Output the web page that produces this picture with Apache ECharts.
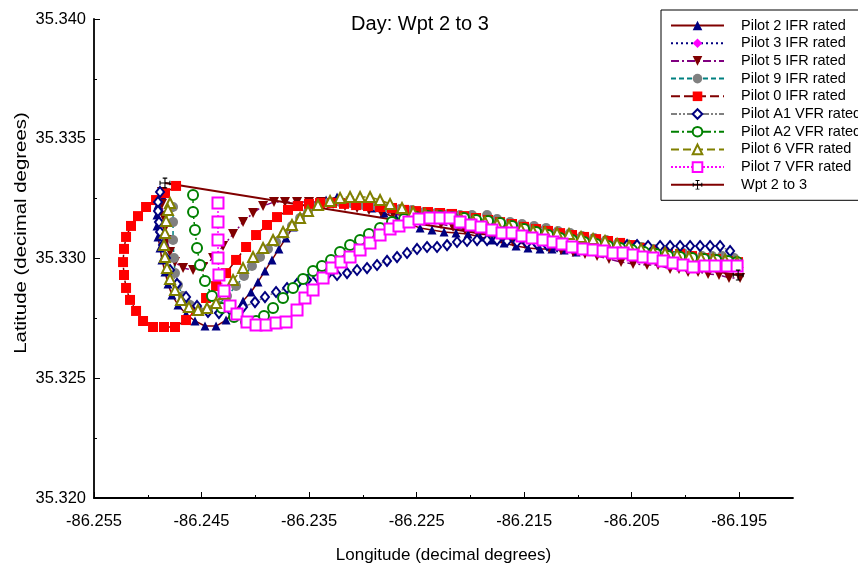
<!DOCTYPE html>
<html>
<head>
<meta charset="utf-8">
<script src="https://cdn.jsdelivr.net/npm/echarts@6/dist/echarts.min.js"></script>
<style>
  html, body { margin: 0; padding: 0; background: #fff; }
  #chart { width: 858px; height: 565px; }
</style>
</head>
<body>
<div id="chart"></div>
<script>
// tick values
var xTicks = [-86.255, -86.245, -86.235, -86.225, -86.215, -86.205, -86.195];
var xMinor = [-86.25, -86.24, -86.23, -86.22, -86.21, -86.2];
var yTicks = [35.320, 35.325, 35.330, 35.335, 35.340];
var yMinor = [35.3225, 35.3275, 35.3325, 35.3375];

// tracks, [longitude, latitude]
var pilot2 = [[-86.24868,35.33265],[-86.24905,35.33223],[-86.24914,35.33182],[-86.24914,35.33136],[-86.24905,35.33090],[-86.24886,35.33044],[-86.24868,35.32994],[-86.24840,35.32944],[-86.24812,35.32894],[-86.24775,35.32848],[-86.24719,35.32806],[-86.24644,35.32768],[-86.24561,35.32739],[-86.24468,35.32718],[-86.24365,35.32718],[-86.24272,35.32743],[-86.24189,35.32781],[-86.24114,35.32823],[-86.24040,35.32860],[-86.23975,35.32902],[-86.23910,35.32948],[-86.23845,35.32994],[-86.23780,35.33040],[-86.23714,35.33086],[-86.23649,35.33132],[-86.23584,35.33173],[-86.23510,35.33207],[-86.23435,35.33228],[-86.23342,35.33244],[-86.23240,35.33257],[-86.23138,35.33244],[-86.23026,35.33228],[-86.22915,35.33211],[-86.22803,35.33190],[-86.22691,35.33169],[-86.22580,35.33148],[-86.22468,35.33127],[-86.22357,35.33119],[-86.22245,35.33111],[-86.22134,35.33106],[-86.22022,35.33102],[-86.21910,35.33090],[-86.21799,35.33077],[-86.21687,35.33065],[-86.21575,35.33052],[-86.21464,35.33044],[-86.21352,35.33040],[-86.21241,35.33040],[-86.21129,35.33035],[-86.21017,35.33027],[-86.20906,35.33035],[-86.20794,35.33031],[-86.20683,35.33023],[-86.20571,35.33019],[-86.20459,35.33010],[-86.20348,35.33002],[-86.20236,35.32994],[-86.20125,35.32981],[-86.20013,35.32973],[-86.19901,35.32969],[-86.19790,35.32969],[-86.19678,35.32969],[-86.19567,35.32969]];
var pilot3 = [];
var pilot5 = [[-86.24868,35.33278],[-86.24868,35.33228],[-86.24858,35.33177],[-86.24840,35.33127],[-86.24821,35.33077],[-86.24793,35.33027],[-86.24747,35.32985],[-86.24672,35.32960],[-86.24579,35.32952],[-86.24486,35.32965],[-86.24393,35.33002],[-86.24300,35.33052],[-86.24207,35.33102],[-86.24114,35.33152],[-86.24021,35.33190],[-86.23928,35.33219],[-86.23826,35.33236],[-86.23724,35.33236],[-86.23612,35.33236],[-86.23501,35.33236],[-86.23389,35.33236],[-86.23277,35.33228],[-86.23166,35.33219],[-86.23054,35.33211],[-86.22943,35.33203],[-86.22831,35.33194],[-86.22719,35.33186],[-86.22608,35.33177],[-86.22496,35.33169],[-86.22385,35.33157],[-86.22273,35.33144],[-86.22161,35.33132],[-86.22050,35.33119],[-86.21938,35.33106],[-86.21827,35.33094],[-86.21715,35.33081],[-86.21603,35.33069],[-86.21492,35.33061],[-86.21380,35.33052],[-86.21268,35.33044],[-86.21157,35.33035],[-86.21045,35.33027],[-86.20934,35.33019],[-86.20822,35.33010],[-86.20711,35.32998],[-86.20599,35.32985],[-86.20487,35.32977],[-86.20357,35.32973],[-86.20255,35.32973],[-86.20143,35.32956],[-86.20060,35.32956],[-86.19976,35.32944],[-86.19883,35.32944],[-86.19790,35.32935],[-86.19688,35.32931],[-86.19595,35.32919],[-86.19492,35.32919]];
var pilot9 = [[-86.24765,35.33215],[-86.24765,35.33152],[-86.24765,35.33077],[-86.24756,35.33002],[-86.24747,35.32939],[-86.24719,35.32889],[-86.24672,35.32843],[-86.24607,35.32806],[-86.24533,35.32785],[-86.24440,35.32785],[-86.24347,35.32806],[-86.24263,35.32843],[-86.24179,35.32885],[-86.24105,35.32927],[-86.24031,35.32969],[-86.23956,35.33006],[-86.23882,35.33040],[-86.23807,35.33069],[-86.23733,35.33102],[-86.23659,35.33136],[-86.23584,35.33169],[-86.23510,35.33194],[-86.23417,35.33219],[-86.23324,35.33232],[-86.23212,35.33236],[-86.23101,35.33232],[-86.22989,35.33223],[-86.22877,35.33219],[-86.22766,35.33211],[-86.22654,35.33207],[-86.22543,35.33203],[-86.22431,35.33194],[-86.22319,35.33190],[-86.22208,35.33186],[-86.22096,35.33182],[-86.21985,35.33182],[-86.21845,35.33182],[-86.21752,35.33165],[-86.21631,35.33152],[-86.21520,35.33144],[-86.21408,35.33136],[-86.21296,35.33127],[-86.21185,35.33115],[-86.21073,35.33106],[-86.20962,35.33094],[-86.20850,35.33086],[-86.20738,35.33077],[-86.20627,35.33065],[-86.20515,35.33056],[-86.20404,35.33048],[-86.20292,35.33040],[-86.20162,35.33031],[-86.20022,35.33023],[-86.19939,35.33010],[-86.19846,35.33010],[-86.19753,35.33010],[-86.19660,35.33010],[-86.19548,35.33002]];
var pilot0 = [[-86.24737,35.33303],[-86.24840,35.33273],[-86.24923,35.33244],[-86.25016,35.33215],[-86.25091,35.33177],[-86.25156,35.33136],[-86.25202,35.33090],[-86.25221,35.33040],[-86.25230,35.32985],[-86.25221,35.32931],[-86.25202,35.32877],[-86.25165,35.32827],[-86.25109,35.32781],[-86.25044,35.32739],[-86.24951,35.32714],[-86.24849,35.32714],[-86.24747,35.32714],[-86.24644,35.32743],[-86.24551,35.32785],[-86.24458,35.32835],[-86.24365,35.32885],[-86.24272,35.32939],[-86.24179,35.32994],[-86.24086,35.33048],[-86.23993,35.33098],[-86.23891,35.33140],[-86.23798,35.33173],[-86.23696,35.33203],[-86.23603,35.33219],[-86.23501,35.33228],[-86.23398,35.33232],[-86.23287,35.33232],[-86.23175,35.33228],[-86.23063,35.33223],[-86.22952,35.33219],[-86.22840,35.33215],[-86.22729,35.33211],[-86.22617,35.33203],[-86.22505,35.33198],[-86.22394,35.33194],[-86.22282,35.33190],[-86.22171,35.33186],[-86.22059,35.33177],[-86.21947,35.33169],[-86.21836,35.33161],[-86.21724,35.33152],[-86.21613,35.33144],[-86.21501,35.33132],[-86.21389,35.33123],[-86.21278,35.33115],[-86.21166,35.33106],[-86.21055,35.33098],[-86.20943,35.33090],[-86.20831,35.33081],[-86.20720,35.33073],[-86.20608,35.33065],[-86.20497,35.33056],[-86.20385,35.33044],[-86.20273,35.33035],[-86.20162,35.33027],[-86.20050,35.33019],[-86.19939,35.33010],[-86.19827,35.33002],[-86.19715,35.32998],[-86.19604,35.32990],[-86.19511,35.32985]];
var pilotA1 = [[-86.24886,35.33278],[-86.24905,35.33236],[-86.24905,35.33198],[-86.24896,35.33152],[-86.24886,35.33111],[-86.24858,35.33056],[-86.24830,35.33002],[-86.24793,35.32952],[-86.24728,35.32894],[-86.24644,35.32839],[-86.24542,35.32802],[-86.24440,35.32777],[-86.24338,35.32772],[-86.24226,35.32781],[-86.24114,35.32797],[-86.24003,35.32818],[-86.23910,35.32839],[-86.23807,35.32860],[-86.23705,35.32877],[-86.23612,35.32894],[-86.23519,35.32910],[-86.23426,35.32923],[-86.23333,35.32931],[-86.23240,35.32931],[-86.23147,35.32939],[-86.23054,35.32952],[-86.22961,35.32960],[-86.22868,35.32973],[-86.22775,35.32990],[-86.22682,35.33006],[-86.22589,35.33023],[-86.22496,35.33040],[-86.22403,35.33048],[-86.22310,35.33048],[-86.22217,35.33056],[-86.22124,35.33069],[-86.22031,35.33073],[-86.21938,35.33077],[-86.21845,35.33077],[-86.21752,35.33077],[-86.21659,35.33073],[-86.21566,35.33069],[-86.21473,35.33065],[-86.21380,35.33061],[-86.21287,35.33056],[-86.21194,35.33052],[-86.21101,35.33048],[-86.21008,35.33048],[-86.20915,35.33048],[-86.20822,35.33048],[-86.20729,35.33048],[-86.20636,35.33052],[-86.20543,35.33056],[-86.20450,35.33056],[-86.20348,35.33052],[-86.20236,35.33052],[-86.20143,35.33052],[-86.20050,35.33052],[-86.19957,35.33052],[-86.19864,35.33052],[-86.19771,35.33052],[-86.19678,35.33052],[-86.19585,35.33031]];
var pilotA2 = [[-86.24579,35.33265],[-86.24579,35.33194],[-86.24561,35.33119],[-86.24542,35.33044],[-86.24514,35.32973],[-86.24468,35.32906],[-86.24403,35.32843],[-86.24310,35.32793],[-86.24198,35.32756],[-86.24086,35.32735],[-86.23993,35.32739],[-86.23919,35.32760],[-86.23835,35.32793],[-86.23742,35.32835],[-86.23649,35.32877],[-86.23556,35.32914],[-86.23463,35.32948],[-86.23380,35.32969],[-86.23296,35.32994],[-86.23212,35.33027],[-86.23119,35.33056],[-86.23026,35.33077],[-86.22943,35.33102],[-86.22840,35.33127],[-86.22729,35.33152],[-86.22617,35.33165],[-86.22505,35.33173],[-86.22394,35.33177],[-86.22282,35.33177],[-86.22171,35.33173],[-86.22059,35.33169],[-86.21947,35.33161],[-86.21836,35.33157],[-86.21724,35.33148],[-86.21613,35.33136],[-86.21501,35.33123],[-86.21389,35.33111],[-86.21278,35.33098],[-86.21166,35.33086],[-86.21055,35.33077],[-86.20943,35.33069],[-86.20831,35.33061],[-86.20720,35.33052],[-86.20608,35.33044],[-86.20497,35.33035],[-86.20385,35.33027],[-86.20273,35.33019],[-86.20162,35.33010],[-86.20050,35.33006],[-86.19939,35.33002],[-86.19827,35.32998],[-86.19715,35.32994],[-86.19604,35.32990],[-86.19520,35.32985]];
var pilot6 = [[-86.24793,35.33232],[-86.24812,35.33203],[-86.24830,35.33157],[-86.24840,35.33106],[-86.24849,35.33056],[-86.24840,35.33006],[-86.24821,35.32960],[-86.24793,35.32914],[-86.24747,35.32868],[-86.24691,35.32827],[-86.24617,35.32797],[-86.24533,35.32785],[-86.24449,35.32793],[-86.24365,35.32814],[-86.24291,35.32852],[-86.24207,35.32910],[-86.24114,35.32960],[-86.24021,35.33006],[-86.23928,35.33044],[-86.23835,35.33077],[-86.23742,35.33111],[-86.23659,35.33140],[-86.23584,35.33169],[-86.23510,35.33198],[-86.23417,35.33223],[-86.23305,35.33240],[-86.23212,35.33253],[-86.23119,35.33257],[-86.23026,35.33257],[-86.22933,35.33257],[-86.22840,35.33244],[-86.22747,35.33228],[-86.22636,35.33211],[-86.22533,35.33194],[-86.22422,35.33186],[-86.22310,35.33177],[-86.22199,35.33169],[-86.22087,35.33165],[-86.21975,35.33157],[-86.21864,35.33152],[-86.21752,35.33144],[-86.21641,35.33136],[-86.21529,35.33123],[-86.21417,35.33115],[-86.21306,35.33111],[-86.21194,35.33106],[-86.21083,35.33102],[-86.20971,35.33090],[-86.20859,35.33081],[-86.20748,35.33073],[-86.20636,35.33061],[-86.20525,35.33052],[-86.20413,35.33040],[-86.20301,35.33031],[-86.20190,35.33023],[-86.20078,35.33015],[-86.19967,35.33006],[-86.19855,35.33002],[-86.19743,35.32998],[-86.19632,35.32994],[-86.19520,35.32985]];
var pilot7 = [[-86.24347,35.33232],[-86.24347,35.33152],[-86.24347,35.33077],[-86.24347,35.33002],[-86.24338,35.32931],[-86.24291,35.32864],[-86.24235,35.32802],[-86.24170,35.32768],[-86.24077,35.32735],[-86.23993,35.32722],[-86.23900,35.32722],[-86.23807,35.32731],[-86.23714,35.32735],[-86.23612,35.32785],[-86.23538,35.32835],[-86.23463,35.32868],[-86.23370,35.32919],[-86.23287,35.32960],[-86.23203,35.32985],[-86.23119,35.33006],[-86.23026,35.33035],[-86.22933,35.33065],[-86.22840,35.33098],[-86.22747,35.33123],[-86.22664,35.33136],[-86.22571,35.33152],[-86.22478,35.33165],[-86.22375,35.33169],[-86.22282,35.33169],[-86.22189,35.33169],[-86.22096,35.33152],[-86.21994,35.33140],[-86.21901,35.33132],[-86.21799,35.33119],[-86.21706,35.33106],[-86.21613,35.33106],[-86.21520,35.33094],[-86.21427,35.33086],[-86.21324,35.33077],[-86.21231,35.33069],[-86.21148,35.33061],[-86.21055,35.33048],[-86.20952,35.33040],[-86.20859,35.33035],[-86.20766,35.33031],[-86.20673,35.33023],[-86.20580,35.33023],[-86.20487,35.33015],[-86.20394,35.33006],[-86.20301,35.33002],[-86.20208,35.32990],[-86.20115,35.32981],[-86.20022,35.32973],[-86.19929,35.32965],[-86.19818,35.32969],[-86.19725,35.32969],[-86.19613,35.32969],[-86.19520,35.32969]];
var wpt = [[-86.2484, 35.33315], [-86.1951, 35.32931]];

var crossSymbol = 'path://M0,5.4h12v1.2h-12Z M5.4,0h1.2v12h-1.2Z M3.5,0h5v1.2h-5Z M3.5,10.8h5v1.2h-5Z M0,3.5h1.2v5h-1.2Z M10.8,3.5h1.2v5h-1.2Z';

function track(name, data, symbol, size, mColor, lColor, dash, extra) {
  var s = {
    name: name,
    type: 'line',
    data: data,
    symbol: symbol,
    symbolSize: size,
    showAllSymbol: true,
    itemStyle: { color: mColor, borderWidth: 1.2 },
    lineStyle: { color: lColor, width: 1.5, type: dash },
    emphasis: { disabled: true }
  };
  if (extra) Object.keys(extra).forEach(function (k) { s[k] = extra[k]; });
  return s;
}

var chart = echarts.init(document.getElementById('chart'));
var font = 'Liberation Sans, Arial, sans-serif';

chart.setOption({
  animation: false,
  textStyle: { fontFamily: font },
  title: {
    text: 'Day: Wpt 2 to 3',
    left: 415,
    textAlign: 'center',
    top: 9,
    textStyle: { fontSize: 20, fontWeight: 'normal', color: '#000', fontFamily: font }
  },
  // y axis title, stretched along its length like the original
  graphic: [{
    type: 'text',
    x: 21,
    y: 233,
    rotation: Math.PI / 2,
    scaleX: 1.2,
    style: {
      text: 'Latitude (decimal degrees)',
      fontSize: 17,
      fontFamily: font,
      fill: '#000',
      align: 'center',
      verticalAlign: 'middle'
    }
  }],
  legend: {
    orient: 'vertical',
    left: 661,
    top: 10,
    itemWidth: 53,
    itemHeight: 12,
    itemGap: 2.7,
    padding: [8, 20, 8, 9],
    borderColor: '#000',
    borderWidth: 1,
    backgroundColor: '#fff',
    textStyle: { fontSize: 14.5, color: '#000', fontFamily: font, padding: [0, 0, 0, 12] },
    data: ['Pilot 2 IFR rated', 'Pilot 3 IFR rated', 'Pilot 5 IFR rated', 'Pilot 9 IFR rated',
      'Pilot 0 IFR rated', 'Pilot A1 VFR rated', 'Pilot A2 VFR rated', 'Pilot 6 VFR rated',
      'Pilot 7 VFR rated', 'Wpt 2 to 3']
  },
  grid: { left: 94, right: 65, top: 19, bottom: 67, outerBoundsMode: 'none', containLabel: false },
  xAxis: [{
    type: 'value',
    min: -86.255,
    max: -86.19,
    position: 'bottom',
    name: 'Longitude (decimal degrees)',
    nameLocation: 'middle',
    nameGap: 49,
    nameTextStyle: { fontSize: 17, color: '#000', fontFamily: font },
    axisLine: { lineStyle: { color: '#000', width: 1.8 } },
    axisTick: { inside: true, length: 6, customValues: xTicks, lineStyle: { color: '#000', width: 1 } },
    axisLabel: { customValues: xTicks, fontSize: 16.5, color: '#000', margin: 15,
      formatter: function (v) { return v.toFixed(3); } },
    splitLine: { show: false }
  }, {
    type: 'value',
    min: -86.255,
    max: -86.19,
    position: 'bottom',
    axisLine: { show: false },
    axisTick: { inside: true, length: 3, customValues: xMinor, lineStyle: { color: '#000', width: 1 } },
    axisLabel: { show: false },
    splitLine: { show: false }
  }],
  yAxis: [{
    type: 'value',
    min: 35.32,
    max: 35.34,
    position: 'left',
    axisLine: { show: true, lineStyle: { color: '#000', width: 1.8 } },
    axisTick: { show: true, inside: true, length: 6, customValues: yTicks, lineStyle: { color: '#000', width: 1 } },
    axisLabel: { customValues: yTicks, fontSize: 16.5, color: '#000', margin: 8,
      formatter: function (v) { return v.toFixed(3); } },
    splitLine: { show: false }
  }, {
    type: 'value',
    min: 35.32,
    max: 35.34,
    position: 'left',
    axisLine: { show: false },
    axisTick: { show: true, inside: true, length: 3, customValues: yMinor, lineStyle: { color: '#000', width: 1 } },
    axisLabel: { show: false },
    splitLine: { show: false }
  }],
  series: [
    track('Pilot 2 IFR rated', pilot2, 'triangle', 9, '#000080', '#800000', 'solid'),
    track('Pilot 3 IFR rated', pilot3, 'diamond', [8, 10], '#ff00ff', '#000080', [2, 3]),
    track('Pilot 5 IFR rated', pilot5, 'triangle', 10, '#800000', '#800080', [8, 3, 2, 3], { symbolRotate: 180 }),
    track('Pilot 9 IFR rated', pilot9, 'circle', 10, '#808080', '#008080', [5, 3]),
    track('Pilot 0 IFR rated', pilot0, 'rect', 10, '#ff0000', '#800000', [9, 4]),
    track('Pilot A1 VFR rated', pilotA1, 'emptyDiamond', [8, 10], '#000080', '#808080', [6, 2, 2, 2, 2, 2]),
    track('Pilot A2 VFR rated', pilotA2, 'emptyCircle', 10, '#008000', '#008000', [8, 3, 2, 3]),
    track('Pilot 6 VFR rated', pilot6, 'emptyTriangle', 10, '#808000', '#808000', [8, 4]),
    track('Pilot 7 VFR rated', pilot7, 'emptyRect', 11, '#ff00ff', '#ff00ff', [2, 2]),
    track('Wpt 2 to 3', wpt, crossSymbol, 11, '#000', '#800000', 'solid', { lineStyle: { color: '#800000', width: 2 } })
  ]
});
</script>
</body>
</html>
